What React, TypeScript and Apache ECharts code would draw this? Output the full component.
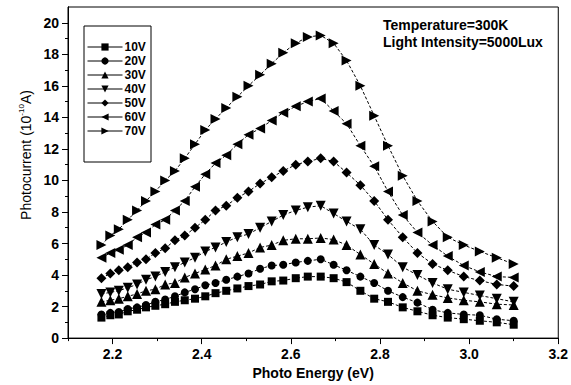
import React, { useEffect, useRef } from "react";
import * as echarts from "echarts";

const energies = [
  2.175, 2.195, 2.214, 2.234, 2.255, 2.275, 2.296, 2.318, 2.340, 2.362,
  2.385, 2.408, 2.431, 2.455, 2.480, 2.505, 2.531, 2.557, 2.583, 2.611,
  2.638, 2.667, 2.696, 2.725, 2.756, 2.787, 2.818, 2.851, 2.884, 2.918,
  2.952, 2.988, 3.024, 3.062, 3.100,
];

const v10 = [1.3, 1.45, 1.5, 1.7, 1.8, 1.95, 2.05, 2.15, 2.3, 2.4, 2.5, 2.65, 2.85, 3.0, 3.15, 3.3, 3.4, 3.6, 3.65, 3.8, 3.9, 3.9, 3.8, 3.55, 3.0, 2.5, 2.3, 1.95, 1.7, 1.45, 1.3, 1.2, 1.1, 1.0, 0.85];
const v20 = [1.5, 1.6, 1.65, 1.85, 1.95, 2.1, 2.3, 2.45, 2.65, 2.9, 3.1, 3.35, 3.5, 3.7, 3.9, 4.1, 4.4, 4.6, 4.65, 4.8, 4.9, 5.0, 4.65, 4.3, 3.9, 3.5, 3.0, 2.6, 2.25, 1.8, 1.6, 1.5, 1.45, 1.2, 1.1];
const v30 = [2.3, 2.4, 2.5, 2.65, 2.8, 3.0, 3.1, 3.4, 3.5, 3.85, 4.1, 4.35, 4.6, 5.0, 5.2, 5.4, 5.75, 5.9, 6.2, 6.3, 6.3, 6.35, 6.25, 5.9, 5.3, 4.7, 4.1, 3.5, 3.0, 2.75, 2.55, 2.4, 2.3, 2.15, 2.1];
const v40 = [2.8, 2.9, 3.0, 3.2, 3.4, 3.7, 3.9, 4.2, 4.5, 4.8, 5.1, 5.5, 5.75, 6.1, 6.4, 6.6, 7.0, 7.4, 7.8, 8.1, 8.3, 8.4, 7.9, 7.4, 6.9, 5.9, 5.3, 4.5, 4.0, 3.5, 3.1, 2.9, 2.7, 2.5, 2.3];
const v50 = [3.8, 4.1, 4.3, 4.5, 4.8, 5.0, 5.4, 5.7, 6.2, 6.5, 7.0, 7.5, 8.1, 8.4, 8.9, 9.3, 9.8, 10.2, 10.6, 11.0, 11.2, 11.4, 11.2, 10.5, 9.7, 8.7, 7.5, 6.4, 5.4, 4.7, 4.3, 3.9, 3.65, 3.4, 3.3];
const v60 = [5.1, 5.4, 5.6, 5.9, 6.4, 6.7, 7.2, 7.5, 8.1, 8.7, 9.6, 10.4, 11.1, 11.6, 12.3, 12.9, 13.3, 13.8, 14.3, 14.7, 15.0, 15.2, 14.4, 13.6, 12.2, 10.9, 9.3, 7.8, 6.7, 5.9, 5.2, 4.6, 4.2, 3.9, 3.85];
const v70 = [5.9, 6.5, 6.9, 7.5, 8.1, 8.7, 9.3, 10.0, 10.6, 11.4, 12.3, 13.2, 13.9, 14.6, 15.3, 16.0, 16.7, 17.4, 18.1, 18.7, 19.1, 19.2, 18.7, 17.6, 16.0, 14.1, 12.2, 10.3, 8.7, 7.4, 6.4, 5.9, 5.5, 5.1, 4.7];

const seriesNames = ["10V", "20V", "30V", "40V", "50V", "60V", "70V"];
const seriesValues = [v10, v20, v30, v40, v50, v60, v70];

const xMajorTicks = [2.2, 2.4, 2.6, 2.8, 3.0, 3.2];
const xMinorTicks = [2.1, 2.3, 2.5, 2.7, 2.9, 3.1];
const yMajorTicks = [0, 2, 4, 6, 8, 10, 12, 14, 16, 18, 20];
const yMinorTicks = [1, 3, 5, 7, 9, 11, 13, 15, 17, 19];

const symbols = [
  "rect",
  "circle",
  "triangle",
  "path://M0,0 L10,0 L5,10 Z",
  "diamond",
  "path://M10,0 L10,10 L0,5 Z",
  "path://M0,0 L10,5 L0,10 Z",
];
const symbolSizes = [8, 8, 10, 10, 10, 10, 10];

const FONT = "Arial, 'Liberation Sans', sans-serif";

export default function App() {
  const ref = useRef<HTMLDivElement>(null);
  useEffect(() => {
    if (!ref.current) return;
    const chart = echarts.init(ref.current, null, { renderer: "svg" });
    const axisCommon = {
      type: "value" as const,
      axisLine: { show: true, lineStyle: { color: "#000", width: 1 } },
      splitLine: { show: false },
    };
    chart.setOption({
      animation: false,
      backgroundColor: "#fff",
      grid: {
        left: 68,
        right: 8,
        top: 7,
        bottom: 44,
        show: true,
        borderColor: "#000",
        borderWidth: 1,
      },
      legend: {
        orient: "vertical",
        left: 87,
        top: 41,
        itemWidth: 35,
        itemHeight: 9,
        itemGap: 2,
        padding: 0,
        data: seriesNames,
        lineStyle: { type: "solid", width: 1, color: "#000" },
        textStyle: {
          fontFamily: FONT,
          fontWeight: "bold",
          fontSize: 12,
          lineHeight: 12,
          color: "#000",
          padding: [0, 0, 0, -3],
        },
      },
      xAxis: [
        {
          ...axisCommon,
          position: "bottom",
          min: 2.1,
          max: 3.2,
          axisTick: { show: true, length: 6, inside: false, customValues: xMajorTicks, lineStyle: { color: "#000" } },
          axisLabel: {
            customValues: xMajorTicks,
            formatter: (v: number) => v.toFixed(1),
            fontFamily: FONT,
            fontWeight: "bold",
            fontSize: 14,
            color: "#000",
            margin: 9,
          },
          name: "Photo Energy (eV)",
          nameLocation: "middle",
          nameGap: 25,
          nameTextStyle: { fontFamily: FONT, fontWeight: "bold", fontSize: 14, color: "#000" },
        },
        {
          ...axisCommon,
          position: "bottom",
          min: 2.1,
          max: 3.2,
          axisTick: { show: true, length: 3, customValues: xMinorTicks, lineStyle: { color: "#000" } },
          axisLabel: { show: false },
        },
      ],
      yAxis: [
        {
          ...axisCommon,
          position: "left",
          min: 0,
          max: 21,
          axisTick: { show: true, length: 6, customValues: yMajorTicks, lineStyle: { color: "#000" } },
          axisLabel: {
            customValues: yMajorTicks,
            fontFamily: FONT,
            fontWeight: "bold",
            fontSize: 14,
            color: "#000",
            margin: 9,
          },
        },
        {
          ...axisCommon,
          position: "left",
          min: 0,
          max: 21,
          axisTick: { show: true, length: 3, customValues: yMinorTicks, lineStyle: { color: "#000" } },
          axisLabel: { show: false },
        },
      ],
      series: seriesNames.map((name, i) => ({
        name,
        type: "line",
        xAxisIndex: 0,
        yAxisIndex: 0,
        data: energies.map((e, j) => [e, seriesValues[i][j]]),
        symbol: symbols[i],
        symbolSize: symbolSizes[i],
        showSymbol: true,
        itemStyle: { color: "#000", borderWidth: 0 },
        lineStyle: { color: "#000", width: 1, type: [3, 2] },
        emphasis: { disabled: true },
      })),
      graphic: [
        {
          type: "rect",
          shape: { x: 84, y: 26, width: 67, height: 136 },
          style: { fill: "none", stroke: "#000", lineWidth: 1 },
          silent: true,
        },
        {
          type: "text",
          x: 383,
          y: 25,
          style: {
            text: "Temperature=300K",
            font: `bold 14px ${FONT}`,
            fill: "#000",
            textAlign: "left",
            textVerticalAlign: "middle",
          },
        },
        {
          type: "text",
          x: 383,
          y: 42,
          style: {
            text: "Light Intensity=5000Lux",
            font: `bold 14px ${FONT}`,
            fill: "#000",
            textAlign: "left",
            textVerticalAlign: "middle",
          },
        },
        {
          type: "text",
          x: 25,
          y: 155,
          rotation: Math.PI / 2,
          style: {
            text: "{a|Photocurrent (10}{s|-10}{a|A)}",
            rich: {
              a: { fontFamily: FONT, fontSize: 14, fontWeight: "normal", fill: "#000", lineHeight: 16, verticalAlign: "bottom" },
              s: { fontFamily: FONT, fontSize: 8, fontWeight: "normal", fill: "#000", lineHeight: 16, verticalAlign: "top" },
            },
            align: "center",
            verticalAlign: "middle",
          },
        },
      ],
    });
    return () => chart.dispose();
  }, []);
  return <div ref={ref} style={{ position: "absolute", left: 0, top: 0, width: 571, height: 385 }} />;
}
